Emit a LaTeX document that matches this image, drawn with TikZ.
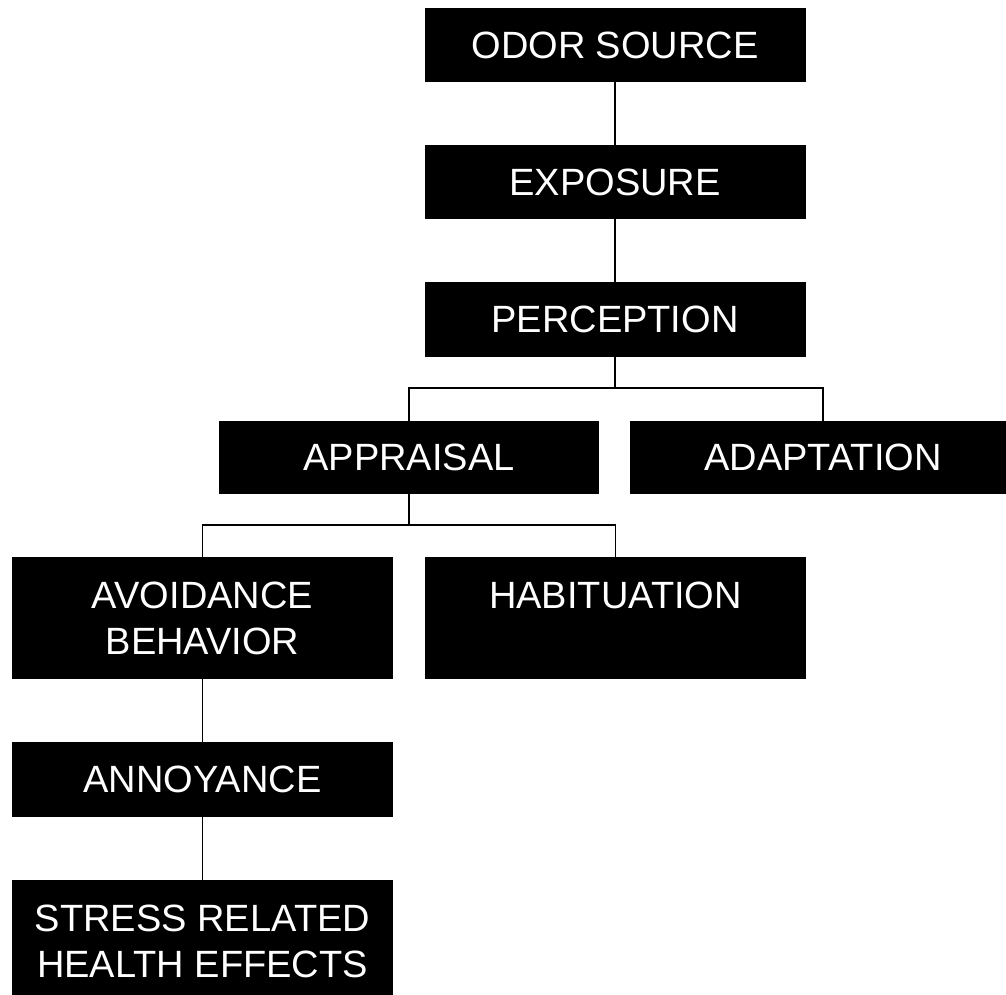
\documentclass[tikz,border=0pt]{standalone}
\usepackage{fontspec}
\setmainfont{Liberation Sans}
\begin{document}
\begin{tikzpicture}[x=1pt,y=-1pt,
  box/.style={rectangle,fill=black,text=white,inner sep=0pt,align=center,
    minimum width=381pt,font=\fontsize{38}{46}\selectfont},
  conn/.style={draw=black,line width=1.8pt}]
\clip (0,0) rectangle (1006,994);
\useasboundingbox (0,0) rectangle (1006,994);
\node[box,minimum height=74pt] (odor) at (615,45) {ODOR SOURCE};
\node[box,minimum height=74pt] (expo) at (615,182) {EXPOSURE};
\node[box,minimum height=75pt] (perc) at (615,319.5) {PERCEPTION};
\node[box,minimum height=73pt,minimum width=380pt] (appr) at (409,457.5) {APPRAISAL};
\node[box,minimum height=73pt,minimum width=386pt] (adap) at (823,457.5) {ADAPTATION};
\node[box,minimum height=122pt] (avoid) at (202.5,618) {AVOIDANCE\\BEHAVIOR};
\node[box,minimum height=122pt] (habit) at (615.5,618) {HABITUATION\\\mbox{}};
\node[box,minimum height=75pt] (annoy) at (202.5,779.5) {ANNOYANCE};
\node[box,minimum height=122pt] (stress) at (202.5,941) {STRESS RELATED\\HEALTH EFFECTS};
\coordinate (b1) at (615,388);
\coordinate (b2) at (409,525);
\draw[conn] (odor.south) -- (expo.north);
\draw[conn] (expo.south) -- (perc.north);
\draw[conn] (perc.south) -- (b1);
\draw[conn] (b1) -| (appr.north);
\draw[conn] (b1) -| (adap.north);
\draw[conn] (appr.south) -- (b2);
\draw[conn] (b2) -| (avoid.north);
\draw[conn] (b2) -| (habit.north);
\draw[conn] (avoid.south) -- (annoy.north);
\draw[conn] (annoy.south) -- (stress.north);
\end{tikzpicture}
\end{document}
